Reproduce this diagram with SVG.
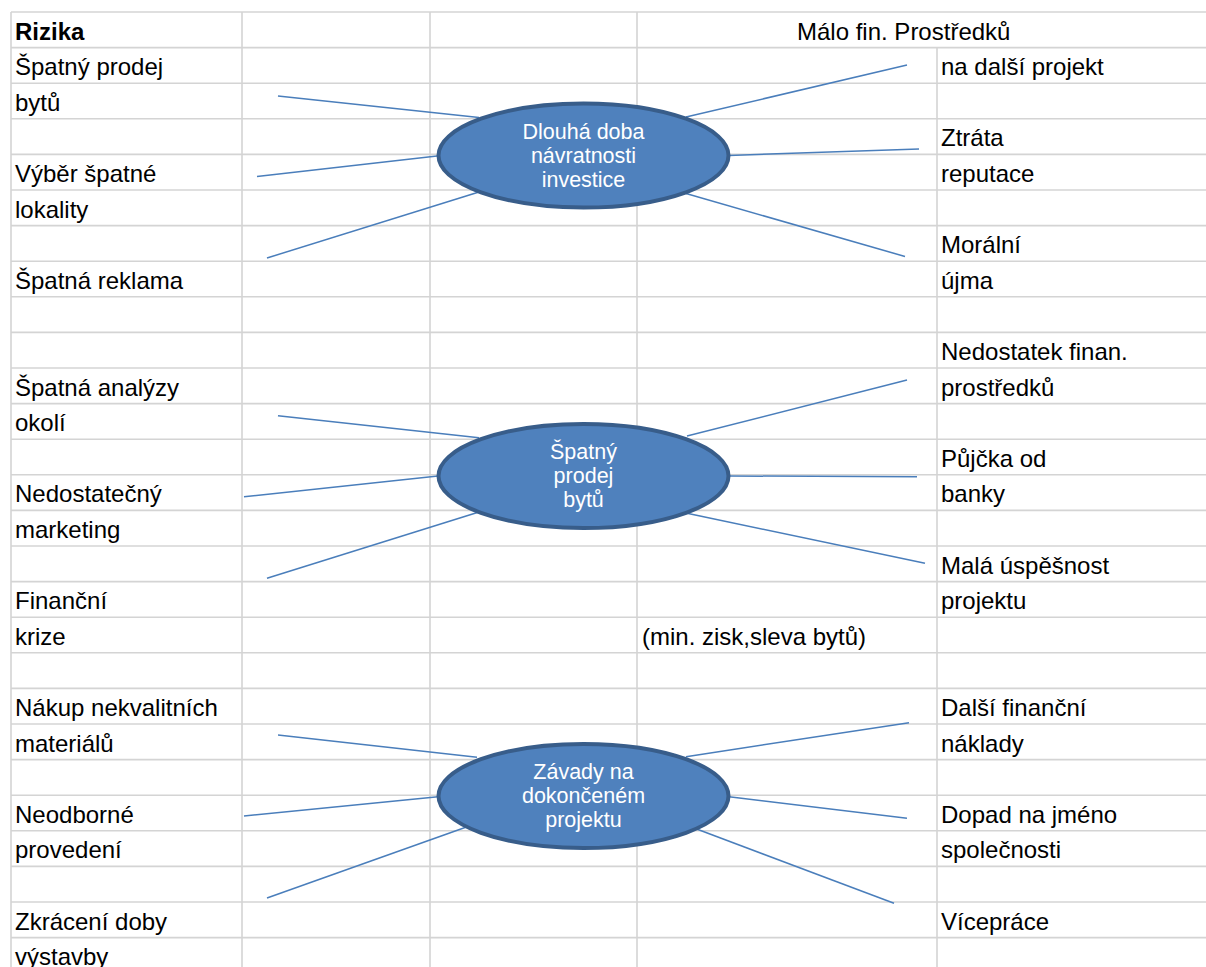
<svg xmlns="http://www.w3.org/2000/svg" width="1206" height="967" viewBox="0 0 1206 967">
<defs>
<style>
.grid line{stroke:#d4d4d4;stroke-width:1.6}
.cell{font-family:"Liberation Sans",Arial,sans-serif;font-size:24px;fill:#000}
.bold{font-weight:bold}
.conn line{stroke:#4a7ebb;stroke-width:1.5}
.node ellipse{fill:#4f81bd;stroke:#385d8a;stroke-width:4}
.node text{font-family:"Liberation Sans",Arial,sans-serif;font-size:21.5px;fill:#fff;text-anchor:middle}
</style>
</defs>
<rect width="1206" height="967" fill="#fff"/>
<g id="grid" class="grid">
<line x1="11" y1="12" x2="1206" y2="12"/>
<line x1="11" y1="47.6" x2="1206" y2="47.6"/>
<line x1="11" y1="83.2" x2="1206" y2="83.2"/>
<line x1="11" y1="118.8" x2="1206" y2="118.8"/>
<line x1="11" y1="154.4" x2="1206" y2="154.4"/>
<line x1="11" y1="190" x2="1206" y2="190"/>
<line x1="11" y1="225.6" x2="1206" y2="225.6"/>
<line x1="11" y1="261.2" x2="1206" y2="261.2"/>
<line x1="11" y1="296.8" x2="1206" y2="296.8"/>
<line x1="11" y1="332.4" x2="1206" y2="332.4"/>
<line x1="11" y1="368" x2="1206" y2="368"/>
<line x1="11" y1="403.6" x2="1206" y2="403.6"/>
<line x1="11" y1="439.2" x2="1206" y2="439.2"/>
<line x1="11" y1="474.8" x2="1206" y2="474.8"/>
<line x1="11" y1="510.4" x2="1206" y2="510.4"/>
<line x1="11" y1="546" x2="1206" y2="546"/>
<line x1="11" y1="581.6" x2="1206" y2="581.6"/>
<line x1="11" y1="617.2" x2="1206" y2="617.2"/>
<line x1="11" y1="652.8" x2="1206" y2="652.8"/>
<line x1="11" y1="688.4" x2="1206" y2="688.4"/>
<line x1="11" y1="724" x2="1206" y2="724"/>
<line x1="11" y1="759.6" x2="1206" y2="759.6"/>
<line x1="11" y1="795.2" x2="1206" y2="795.2"/>
<line x1="11" y1="830.8" x2="1206" y2="830.8"/>
<line x1="11" y1="866.4" x2="1206" y2="866.4"/>
<line x1="11" y1="902" x2="1206" y2="902"/>
<line x1="11" y1="937.6" x2="1206" y2="937.6"/>
<line x1="11" y1="12" x2="11" y2="967"/>
<line x1="242" y1="12" x2="242" y2="967"/>
<line x1="430" y1="12" x2="430" y2="967"/>
<line x1="637" y1="12" x2="637" y2="967"/>
<line x1="937" y1="47.6" x2="937" y2="967"/>
</g>
<g id="cells" class="cell">
<text class="cell bold" x="15" y="39.5">Rizika</text>
<text x="797" y="39.5">Málo fin. Prostředků</text>
<text x="15" y="75.1">Špatný prodej</text>
<text x="941" y="75.1">na další projekt</text>
<text x="15" y="110.7">bytů</text>
<text x="941" y="146.3">Ztráta</text>
<text x="15" y="181.9">Výběr špatné</text>
<text x="941" y="181.9">reputace</text>
<text x="15" y="217.5">lokality</text>
<text x="941" y="253.1">Morální</text>
<text x="15" y="288.7">Špatná reklama</text>
<text x="941" y="288.7">újma</text>
<text x="941" y="359.9">Nedostatek finan.</text>
<text x="15" y="395.5">Špatná analýzy</text>
<text x="941" y="395.5">prostředků</text>
<text x="15" y="431.1">okolí</text>
<text x="941" y="466.7">Půjčka od</text>
<text x="15" y="502.3">Nedostatečný</text>
<text x="941" y="502.3">banky</text>
<text x="15" y="537.9">marketing</text>
<text x="941" y="573.5">Malá úspěšnost</text>
<text x="15" y="609.1">Finanční</text>
<text x="941" y="609.1">projektu</text>
<text x="15" y="644.7">krize</text>
<text x="642" y="644.7">(min. zisk,sleva bytů)</text>
<text x="15" y="715.9">Nákup nekvalitních</text>
<text x="941" y="715.9">Další finanční</text>
<text x="15" y="751.5">materiálů</text>
<text x="941" y="751.5">náklady</text>
<text x="15" y="822.7">Neodborné</text>
<text x="941" y="822.7">Dopad na jméno</text>
<text x="15" y="858.3">provedení</text>
<text x="941" y="858.3">společnosti</text>
<text x="15" y="929.5">Zkrácení doby</text>
<text x="941" y="929.5">Vícepráce</text>
<text x="15" y="965.1">výstavby</text>
</g>
<g id="connectors" class="conn">
<line x1="278" y1="96" x2="479" y2="117.5"/>
<line x1="257" y1="176.5" x2="437" y2="156"/>
<line x1="267" y1="258" x2="479" y2="192"/>
<line x1="686" y1="117" x2="907" y2="65"/>
<line x1="729" y1="155.5" x2="919" y2="149"/>
<line x1="686" y1="193.5" x2="905" y2="256.5"/>
<line x1="278" y1="415.7" x2="479" y2="437.7"/>
<line x1="244" y1="496.7" x2="438" y2="476"/>
<line x1="267" y1="578.3" x2="479" y2="512"/>
<line x1="687" y1="436" x2="907" y2="380"/>
<line x1="729" y1="476" x2="917" y2="476.7"/>
<line x1="687" y1="513.3" x2="925" y2="563.3"/>
<line x1="278" y1="735" x2="477" y2="757.3"/>
<line x1="244" y1="816" x2="438" y2="796.7"/>
<line x1="267" y1="898" x2="477" y2="823.3"/>
<line x1="686" y1="756.7" x2="909" y2="722.7"/>
<line x1="729" y1="796.7" x2="907" y2="818.3"/>
<line x1="686" y1="825" x2="894" y2="903.3"/>
</g>
<g id="node-dlouha" class="node">
<ellipse cx="583.5" cy="155.5" rx="145" ry="52"/>
<text x="583.5" y="138.5">Dlouhá doba</text>
<text x="583.5" y="162.5">návratnosti</text>
<text x="583.5" y="186.5">investice</text>
</g>
<g id="node-spatny" class="node">
<ellipse cx="583.5" cy="476" rx="145" ry="52"/>
<text x="583.5" y="459">Špatný</text>
<text x="583.5" y="483">prodej</text>
<text x="583.5" y="507">bytů</text>
</g>
<g id="node-zavady" class="node">
<ellipse cx="583.5" cy="796" rx="145" ry="52"/>
<text x="583.5" y="779">Závady na</text>
<text x="583.5" y="803">dokončeném</text>
<text x="583.5" y="827">projektu</text>
</g>
</svg>
